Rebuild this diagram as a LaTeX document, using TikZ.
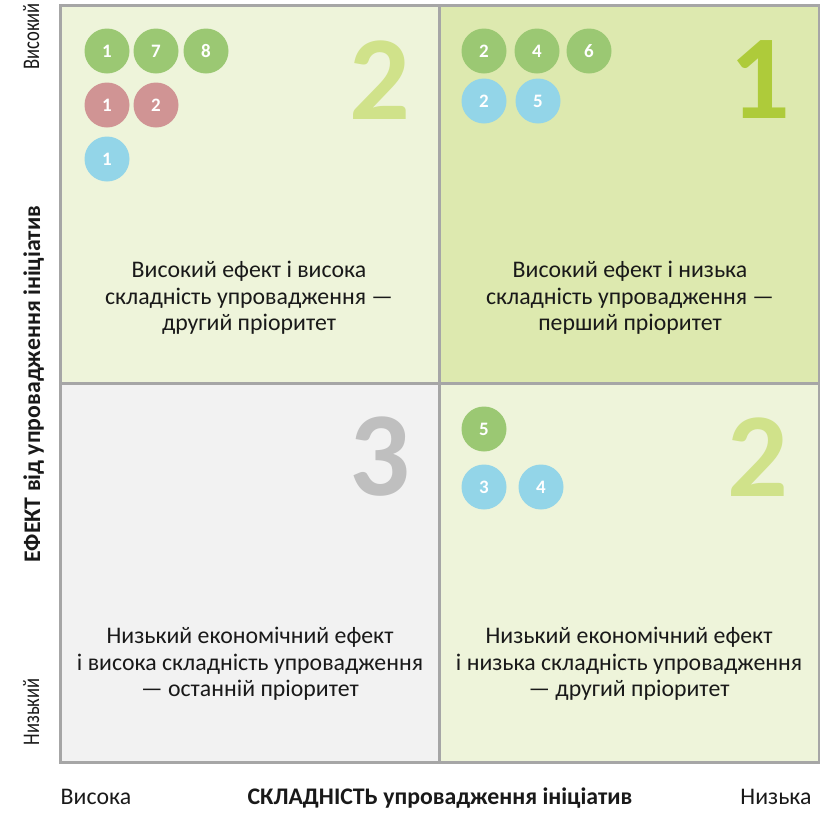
\documentclass[tikz,border=0pt]{standalone}
\usepackage{fontspec}
\setmainfont{Carlito}
\newfontfamily\narrowfont[FakeStretch=0.78]{Carlito}

\definecolor{frame}{HTML}{A6A6A6}
\definecolor{paleq}{HTML}{EEF4DA}
\definecolor{bestq}{HTML}{DDE9AF}
\definecolor{lastq}{HTML}{F2F2F2}
\definecolor{numtwo}{HTML}{D0E28A}
\definecolor{numone}{HTML}{AECB3A}
\definecolor{numthree}{HTML}{BFBFBF}
\definecolor{dotgreen}{HTML}{9BC873}
\definecolor{dotred}{HTML}{D09494}
\definecolor{dotblue}{HTML}{93D5E8}

\begin{document}
\begin{tikzpicture}[x=1pt,y=-1pt,
  quad/.style={draw=frame,line width=3pt,minimum width=380pt,minimum height=379pt,inner sep=0pt},
  dot/.style={circle,minimum size=45pt,inner sep=0pt,text=white,font=\bfseries\fontsize{19}{19}\selectfont},
  grn/.style={dot,fill=dotgreen},
  red/.style={dot,fill=dotred},
  blu/.style={dot,fill=dotblue},
  bignum/.style={inner sep=0pt,font=\bfseries\fontsize{120}{120}\selectfont},
  qtext/.style={align=center,text=black!90,font=\fontsize{23.8}{26.5}\selectfont},
  axis/.style={inner sep=0pt,anchor=base,text=black!90,font=\fontsize{23.8}{23.8}\selectfont},
  sideaxis/.style={axis,rotate=90,font=\narrowfont\fontsize{23.8}{23.8}\selectfont},
  axistitle/.style={axis,font=\bfseries\fontsize{23.8}{23.8}\selectfont}]
\useasboundingbox (0,0) rectangle (820,812);

% quadrants
\node[quad,fill=paleq] (tl) at (250,194.5) {};
\node[quad,fill=bestq] (tr) at (629,194.5) {};
\node[quad,fill=lastq] (bl) at (250,573) {};
\node[quad,fill=paleq] (br) at (629,573) {};

% priority numbers
\node[bignum,text=numtwo] (ntl) at (380,80) {2};
\node[bignum,text=numone] (ntr) at (760,80) {1};
\node[bignum,text=numthree] (nbl) at (380,457) {3};
\node[bignum,text=numtwo] (nbr) at (758,457) {2};

% initiatives
\node[grn] (tlg1) at (107,51) {1};
\node[grn] (tlg7) at (156,51) {7};
\node[grn] (tlg8) at (206,51) {8};
\node[red] (tlr1) at (107,105) {1};
\node[red] (tlr2) at (156,105) {2};
\node[blu] (tlb1) at (107,159) {1};

\node[grn] (trg2) at (484,51) {2};
\node[grn] (trg4) at (537,51) {4};
\node[grn] (trg6) at (589,51) {6};
\node[blu] (trb2) at (484,101) {2};
\node[blu] (trb5) at (538,101) {5};

\node[grn] (brg5) at (484,429) {5};
\node[blu] (brb3) at (484,487) {3};
\node[blu] (brb4) at (541,487) {4};

% descriptions
\node[qtext] (ttl) at (249,298) {Високий ефект і висока\\складність упровадження —\\другий пріоритет};
\node[qtext] (ttr) at (630,298) {Високий ефект і низька\\складність упровадження —\\перший пріоритет};
\node[qtext] (tbl) at (250,664) {Низький економічний ефект\\і висока складність упровадження\\— останній пріоритет};
\node[qtext] (tbr) at (629,664) {Низький економічний ефект\\і низька складність упровадження\\— другий пріоритет};

% axes
\node[sideaxis,anchor=base east] (yhi) at (39,3) {Високий};
\node[axistitle,rotate=90] (ytitle) at (40,384) {ЕФЕКТ від упровадження ініціатив};
\node[sideaxis] (ylo) at (39,712) {Низький};
\node[axis] (xhi) at (96,804) {Висока};
\node[axistitle] (xtitle) at (440,804) {СКЛАДНІСТЬ упровадження ініціатив};
\node[axis] (xlo) at (776,804) {Низька};
\end{tikzpicture}
\end{document}
